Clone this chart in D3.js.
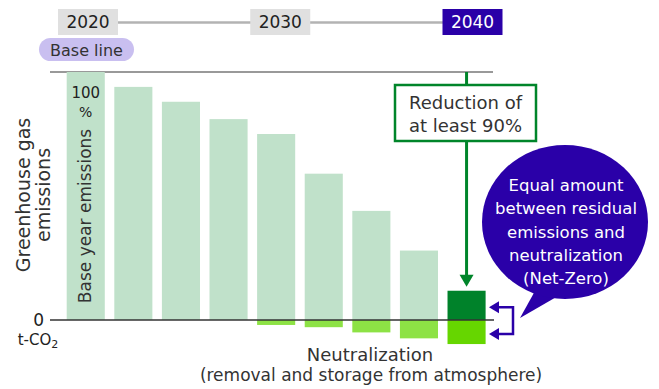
<!DOCTYPE html>
<html>
<head>
<meta charset="utf-8">
<script src="https://cdn.jsdelivr.net/npm/d3@7"></script>
<style>
  body { margin: 0; background: #fff; }
  svg { display: block; font-family: 'DejaVu Sans', sans-serif; }
</style>
</head>
<body>
<div id="chart"></div>
<script>
// chart data
var steps = ["s1", "s2", "s3", "s4", "s5", "s6", "s7", "s8", "s9"];
var emissions = [100, 94, 88, 81, 75, 59, 44, 28, 11.8];
var neutralization = [0, 0, 0, 0, -2.0, -2.9, -5.0, -7.4, -9.7];
var timelineYears = [2020, 2030, 2040];
var bubbleLines = ["Equal amount", "between residual", "emissions and", "neutralization", "(Net-Zero)"];
var boxLines = ["Reduction of", "at least 90%"];

var width = 659, height = 389;
var purple = "#2a00a8", green = "#00852a";

var svg = d3.select("#chart").append("svg")
    .attr("width", width)
    .attr("height", height);

var x = d3.scaleBand()
    .domain(steps)
    .range([66.7, 485.6])
    .paddingInner(0.2)
    .paddingOuter(0);

var y = d3.scaleLinear()
    .domain([0, 100])
    .range([320, 72]);

// timeline
var t = d3.scaleLinear().domain([2020, 2040]).range([88, 472.5]);
svg.append("line")
    .attr("x1", t(2020)).attr("x2", t(2040))
    .attr("y1", 22.5).attr("y2", 22.5)
    .attr("stroke", "#b3b3b3").attr("stroke-width", 2.5);

var tl = svg.selectAll(".year").data(timelineYears).enter().append("g")
    .attr("class", "year")
    .attr("transform", function(d) { return "translate(" + t(d) + ",22)"; });
tl.append("rect")
    .attr("x", -30).attr("y", -13).attr("width", 60).attr("height", 26)
    .attr("fill", function(d) { return d == 2040 ? purple : "#e0e0e0"; });
tl.append("text")
    .attr("text-anchor", "middle").attr("dy", "0.36em")
    .style("font-size", "17px")
    .attr("fill", function(d) { return d == 2040 ? "#fff" : "#222"; })
    .text(function(d) { return d; });

// base line pill
svg.append("rect")
    .attr("x", 39).attr("y", 38).attr("width", 95).attr("height", 23)
    .attr("rx", 11.5)
    .attr("fill", "#c9bff0");
svg.append("text")
    .attr("x", 86.5).attr("y", 50).attr("dy", "0.36em")
    .attr("text-anchor", "middle")
    .style("font-size", "16px").attr("fill", "#333")
    .text("Base line");

// 100% reference line
svg.append("line")
    .attr("x1", 50).attr("x2", 493)
    .attr("y1", y(100)).attr("y2", y(100))
    .attr("stroke", "#777").attr("stroke-width", 1.5);

// emission bars
svg.selectAll(".bar").data(emissions).enter().append("rect")
    .attr("class", "bar")
    .attr("x", function(d, i) { return x(steps[i]); })
    .attr("y", function(d) { return y(d); })
    .attr("width", x.bandwidth())
    .attr("height", function(d) { return y(0) - y(d); })
    .attr("fill", function(d, i) { return i == steps.length - 1 ? "#00822a" : "#c0e1ca"; });

// neutralization bars
svg.selectAll(".neg").data(neutralization).enter().append("rect")
    .attr("class", "neg")
    .attr("x", function(d, i) { return x(steps[i]); })
    .attr("y", y(0))
    .attr("width", x.bandwidth())
    .attr("height", function(d) { return y(d) - y(0); })
    .attr("fill", function(d, i) { return i == steps.length - 1 ? "#66d600" : "#8de245"; });

// zero line
svg.append("line")
    .attr("x1", 50).attr("x2", 494)
    .attr("y1", y(0)).attr("y2", y(0))
    .attr("stroke", "#333").attr("stroke-width", 1.5);

// labels on the axis
svg.append("text")
    .attr("x", 44).attr("y", y(0)).attr("dy", "0.36em")
    .attr("text-anchor", "end")
    .style("font-size", "17px").attr("fill", "#222")
    .text("0");
var tco = svg.append("text")
    .attr("x", 38).attr("y", 340).attr("dy", "0.36em")
    .attr("text-anchor", "middle")
    .style("font-size", "15px").attr("fill", "#222");
tco.append("tspan").text("t-CO");
tco.append("tspan").attr("dy", 3).style("font-size", "11px").text("2");

var yl = svg.append("text")
    .attr("transform", "translate(36,195) rotate(-90)")
    .attr("text-anchor", "middle")
    .style("font-size", "19px").attr("fill", "#333");
yl.append("tspan").attr("x", 0).attr("dy", "-0.3em").text("Greenhouse gas");
yl.append("tspan").attr("x", 0).attr("dy", "1.05em").text("emissions");

// labels inside the base bar
var cx0 = x(steps[0]) + x.bandwidth() / 2;
svg.append("text")
    .attr("x", cx0).attr("y", 93).attr("dy", "0.36em")
    .attr("text-anchor", "middle")
    .style("font-size", "15px").attr("fill", "#222")
    .text("100");
svg.append("text")
    .attr("x", cx0).attr("y", 112).attr("dy", "0.36em")
    .attr("text-anchor", "middle")
    .style("font-size", "14px").attr("fill", "#222")
    .text("%");
svg.append("text")
    .attr("transform", "translate(" + (cx0 - 1) + ",216) rotate(-90)")
    .attr("text-anchor", "middle").attr("dy", "0.36em")
    .style("font-size", "17px").attr("fill", "#333")
    .text("Base year emissions");

// reduction box and arrow
var cx8 = x(steps[8]) + x.bandwidth() / 2;
var tipY = y(emissions[8]) - 4;
svg.append("line")
    .attr("x1", cx8).attr("x2", cx8)
    .attr("y1", y(100)).attr("y2", 85)
    .attr("stroke", green).attr("stroke-width", 3);
svg.append("line")
    .attr("x1", cx8).attr("x2", cx8)
    .attr("y1", 141).attr("y2", tipY - 10)
    .attr("stroke", green).attr("stroke-width", 3);
svg.append("path")
    .attr("d", "M" + (cx8 - 7) + "," + (tipY - 12) + " L" + (cx8 + 7) + "," + (tipY - 12) + " L" + cx8 + "," + tipY + " Z")
    .attr("fill", green);
svg.append("rect")
    .attr("x", 395).attr("y", 85).attr("width", 141).attr("height", 56)
    .attr("fill", "#fff").attr("stroke", green).attr("stroke-width", 2.5);
svg.selectAll(".boxline").data(boxLines).enter().append("text")
    .attr("class", "boxline")
    .attr("x", 465.5)
    .attr("y", function(d, i) { return 103 + i * 23; })
    .attr("dy", "0.36em")
    .attr("text-anchor", "middle")
    .style("font-size", "18px").attr("fill", "#333")
    .text(function(d) { return d; });

// bubble
svg.append("path")
    .attr("d", "M540,282 L520,318 L565,292 Z")
    .attr("fill", purple);
svg.append("ellipse")
    .attr("cx", 565).attr("cy", 222)
    .attr("rx", 83).attr("ry", 77)
    .attr("fill", purple);
svg.selectAll(".bubble").data(bubbleLines).enter().append("text")
    .attr("class", "bubble")
    .attr("x", 566)
    .attr("y", function(d, i) { return 185 + i * 23.3; })
    .attr("dy", "0.36em")
    .attr("text-anchor", "middle")
    .style("font-size", "16.5px").attr("fill", "#fff")
    .text(function(d) { return d; });

// bracket arrows
var yTop = (y(0) + y(emissions[8])) / 2 + 2, yBot = (y(0) + y(neutralization[8])) / 2 + 2;
svg.append("path")
    .attr("d", "M496," + yTop + " L513," + yTop + " L513," + yBot + " L496," + yBot)
    .attr("fill", "none").attr("stroke", purple).attr("stroke-width", 2.5);
[yTop, yBot].forEach(function(yy) {
    svg.append("path")
        .attr("d", "M489," + yy + " L499," + (yy - 6) + " L499," + (yy + 6) + " Z")
        .attr("fill", purple);
});

// neutralization label
svg.append("text")
    .attr("x", 370).attr("y", 355).attr("dy", "0.36em")
    .attr("text-anchor", "middle")
    .style("font-size", "18px").attr("fill", "#333")
    .text("Neutralization");
svg.append("text")
    .attr("x", 371).attr("y", 375).attr("dy", "0.36em")
    .attr("text-anchor", "middle")
    .style("font-size", "17px").attr("fill", "#333")
    .text("(removal and storage from atmosphere)");
</script>
</body>
</html>
